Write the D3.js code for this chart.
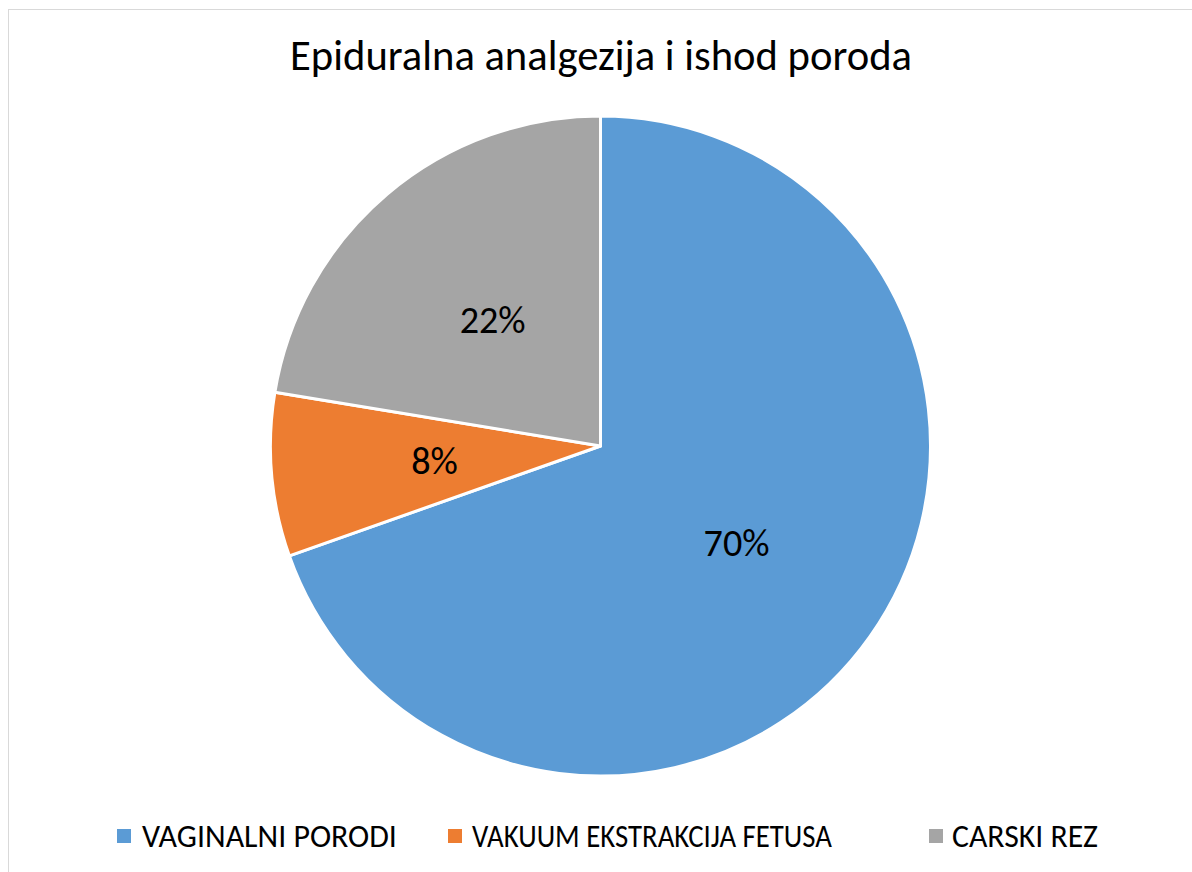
<!DOCTYPE html>
<html>
<head>
<meta charset="utf-8">
<script src="https://cdn.jsdelivr.net/npm/d3@7"></script>
<style>
  html, body { margin: 0; padding: 0; background: #fff; }
  svg { display: block; }
  text { font-family: Carlito, Calibri, Lato, "Open Sans", sans-serif; fill: #000; }
</style>
</head>
<body>
<svg id="chart" width="1192" height="872"></svg>
<script>
const title = "Epiduralna analgezija i ishod poroda";
const categories = ["VAGINALNI PORODI", "VAKUUM EKSTRAKCIJA FETUSA", "CARSKI REZ"];
const values = [69.6, 8.0, 22.4];
const labels = ["70%", "8%", "22%"];
const colors = ["#5B9BD5", "#ED7D31", "#A5A5A5"];

const W = 1192, H = 872;
const cx = 600.5, cy = 446, R = 330;

const svg = d3.select("#chart");

// chart frame
svg.append("rect")
  .attr("x", 8.5).attr("y", 9.5)
  .attr("width", W).attr("height", H)
  .attr("fill", "#fff").attr("stroke", "#d9d9d9").attr("stroke-width", 1);

// scale font so text reaches target width
function fitText(sel, targetWidth) {
  const base = parseFloat(sel.attr("font-size"));
  const len = sel.node().getComputedTextLength();
  if (len > 0) sel.attr("font-size", base * targetWidth / len);
  return sel;
}
// condense glyphs to target width at fixed size
function squeezeText(sel, targetWidth) {
  const len = sel.node().getComputedTextLength();
  if (len > targetWidth) sel.attr("textLength", targetWidth).attr("lengthAdjust", "spacingAndGlyphs");
  return sel;
}

// title
const t = svg.append("text")
  .attr("x", 601).attr("y", 70)
  .attr("text-anchor", "middle")
  .attr("font-size", 34)
  .text(title);
fitText(t, 622);

// pie
const pie = d3.pie().sort(null).value(d => d)(values);
const arc = d3.arc().innerRadius(0).outerRadius(R);
const labelArc = d3.arc().innerRadius(R * 0.505).outerRadius(R * 0.505);

const g = svg.append("g").attr("transform", `translate(${cx},${cy})`);
g.selectAll("path.slice")
  .data(pie)
  .join("path")
  .attr("class", "slice")
  .attr("d", arc)
  .attr("fill", (d, i) => colors[i])
  .attr("stroke", "#fff")
  .attr("stroke-width", 3)
  .attr("stroke-linejoin", "round");

// labels: size taken from "70%", others share it
const lblSel = g.selectAll("text.lbl")
  .data(pie)
  .join("text")
  .attr("class", "lbl")
  .attr("transform", d => `translate(${labelArc.centroid(d)})`)
  .attr("text-anchor", "middle")
  .attr("dy", "0.36em")
  .attr("font-size", 29)
  .text((d, i) => labels[i]);
const first = d3.select(lblSel.nodes()[0]);
fitText(first, 66);
lblSel.attr("font-size", first.attr("font-size"));

// legend
const legendSquares = [117, 448, 929];
const legendTextX = [142, 472, 952];
const legendTextW = [255, 360, 146];
const legY = 836;
const leg = svg.append("g");
let legSize = 24;
categories.forEach((c, i) => {
  leg.append("rect")
    .attr("x", legendSquares[i]).attr("y", legY - 7)
    .attr("width", 14).attr("height", 14)
    .attr("fill", colors[i]);
  const tx = leg.append("text")
    .attr("x", legendTextX[i]).attr("y", legY)
    .attr("dy", "0.35em")
    .attr("font-size", legSize)
    .text(c);
  if (i === 0) { fitText(tx, legendTextW[i]); legSize = +tx.attr("font-size"); }
  else squeezeText(tx, legendTextW[i]);
});
</script>
</body>
</html>
